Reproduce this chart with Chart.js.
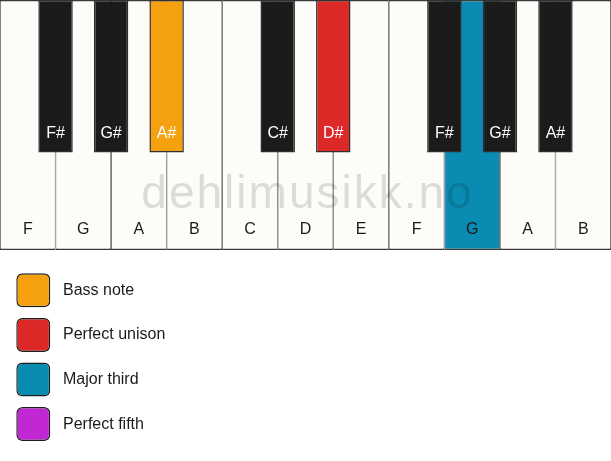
<!DOCTYPE html>
<html><head><meta charset="utf-8">
<script src="https://cdn.jsdelivr.net/npm/chart.js@4.4.1/dist/chart.umd.min.js"></script>
<style>html,body{margin:0;padding:0;background:#fff;overflow:hidden}canvas{display:block}</style>
</head><body>
<canvas id="keys" width="611" height="251"></canvas>
<canvas id="legend" width="611" height="210"></canvas>
<script>
// ---- data ----
const whiteKeyNames = ['F','G','A','B','C','D','E','F','G','A','B'];
const blackKeyNames = ['F#','G#','A#','C#','D#','F#','G#','A#'];
// each black key sits on the boundary after white key n (white-key units)
const blackKeySlots = [1,2,3,5,6,8,9,10];
const intervalNames = ['Bass note','Perfect unison','Major third','Perfect fifth'];
const intervalColors = ['#F5A00F','#DD2828','#0A8BB2','#C128D4'];
const whiteKeyRoles = [null,null,null,null,null,null,null,null,'Major third',null,null];
const blackKeyRoles = [null,null,'Bass note',null,'Perfect unison',null,null,null];
const watermarkText = 'dehlimusikk.no';

const FONT = '"Liberation Sans", Arial, Helvetica, sans-serif';
const blackKeyLength = 0.61;
const roleColor = (r, base) => r ? intervalColors[intervalNames.indexOf(r)] : base;

const keyLabels = {
  id: 'keyLabels',
  afterDatasetsDraw(chart) {
    const ctx = chart.ctx;
    ctx.save();
    ctx.font = '16px ' + FONT;
    ctx.textAlign = 'center';
    ctx.textBaseline = 'middle';
    chart.data.datasets.forEach((ds, di) => {
      const meta = chart.getDatasetMeta(di);
      meta.data.forEach((el, i) => {
        const bottom = Math.max(el.y, el.base);
        ctx.fillStyle = ds.labelColor;
        ctx.fillText(ds.keyNames[i], el.x, bottom - ds.labelOffset);
      });
    });
    const a = chart.chartArea;
    ctx.font = '46px ' + FONT;
    ctx.letterSpacing = '2px';
    ctx.textBaseline = 'alphabetic';
    ctx.fillStyle = 'rgba(0,0,0,0.13)';
    ctx.fillText(watermarkText, (a.left + a.right) / 2 + 2, a.bottom - 42.5);
    ctx.restore();
  }
};

new Chart(document.getElementById('keys'), {
  type: 'bar',
  data: {
    datasets: [
      {
        keyNames: whiteKeyNames, labelColor: '#1a1a1a', labelOffset: 20,
        data: whiteKeyNames.map((n, i) => ({x: i + 0.5, y: [0, 1]})),
        backgroundColor: whiteKeyRoles.map(r => roleColor(r, '#FDFCF8')),
        borderColor: '#3a3a3a',
        borderWidth: {left: 0.8, right: 0.8, top: 1.5, bottom: 1.5},
        borderSkipped: false, inflateAmount: 0,
        categoryPercentage: 2, barPercentage: 1, order: 1, clip: false
      },
      {
        keyNames: blackKeyNames, labelColor: '#ffffff', labelOffset: 18.5,
        data: blackKeySlots.map(s => ({x: s, y: [1 - blackKeyLength, 1]})),
        backgroundColor: blackKeyRoles.map(r => roleColor(r, '#1B1B1B')),
        borderColor: '#303030',
        borderWidth: 1.5,
        borderSkipped: false, inflateAmount: 0,
        categoryPercentage: 1.24, barPercentage: 1, order: 0, clip: false
      }
    ]
  },
  options: {
    responsive: false, animation: false, grouped: false,
    layout: {padding: {left: 0, right: 0, top: 0, bottom: 1}},
    scales: {
      x: {type: 'linear', min: 0, max: whiteKeyNames.length, offset: false, display: false, ticks: {stepSize: 1}},
      y: {type: 'linear', min: 0, max: 1, display: false}
    },
    plugins: {legend: {display: false}, tooltip: {enabled: false}}
  },
  plugins: [keyLabels]
});

// legend: one swatch per interval, labels on the category axis
new Chart(document.getElementById('legend'), {
  type: 'bar',
  data: {
    labels: intervalNames,
    datasets: [{
      data: intervalNames.map(() => [0, 1]),
      backgroundColor: intervalColors,
      borderColor: '#1e1e1e', borderWidth: 1.5, borderRadius: 6,
      borderSkipped: false, inflateAmount: 0,
      barPercentage: 1, categoryPercentage: 0.762
    }]
  },
  options: {
    indexAxis: 'y', responsive: false, animation: false,
    layout: {padding: {left: 16.2, right: 0, top: 17, bottom: 14.6}},
    scales: {
      x: {type: 'linear', min: 0, max: 1, display: false},
      y: {
        position: 'right',
        grid: {display: false, drawTicks: false},
        border: {display: false},
        ticks: {color: '#1a1a1a', font: {family: FONT, size: 16}, padding: 12.6},
        afterFit(s) {
          s.width = 611 - 50.4;
          s.paddingTop = 0; s.paddingBottom = 0; s.paddingLeft = 0; s.paddingRight = 0;
        }
      }
    },
    plugins: {legend: {display: false}, tooltip: {enabled: false}}
  }
});
</script>
</body></html>
